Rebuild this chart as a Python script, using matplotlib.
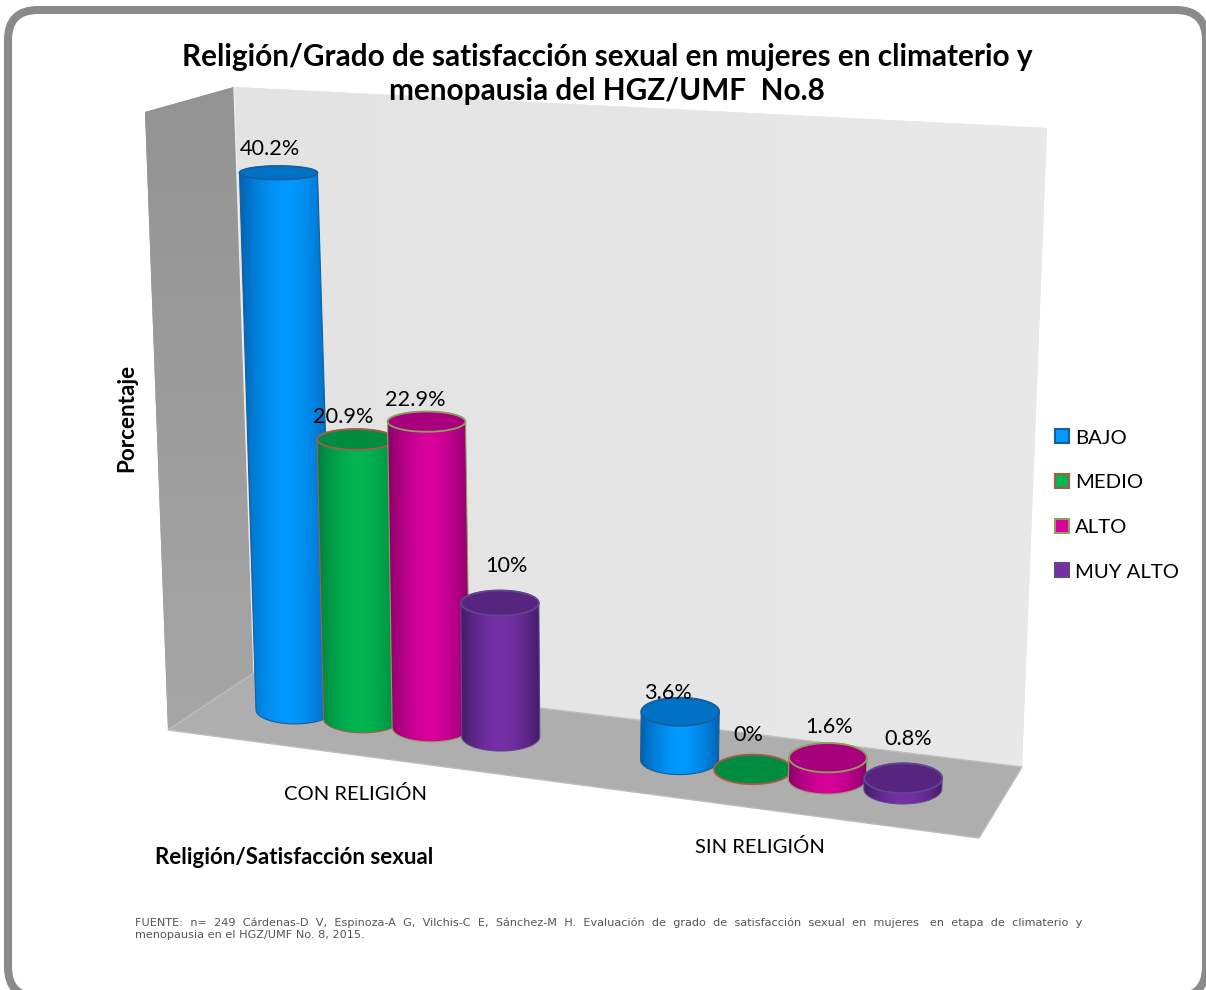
import numpy as np
import matplotlib
matplotlib.use("Agg")
import matplotlib.pyplot as plt
from matplotlib.patches import FancyBboxPatch, Patch, Polygon
from matplotlib.colors import to_rgb

categories = ["CON RELIGIÓN", "SIN RELIGIÓN"]
series = ["BAJO", "MEDIO", "ALTO", "MUY ALTO"]
bajo = [40.2, 3.6]
medio = [20.9, 0]
alto = [22.9, 1.6]
muy_alto = [10, 0.8]
values = [bajo, medio, alto, muy_alto]

title = "Religión/Grado de satisfacción sexual en mujeres en climaterio y\nmenopausia del HGZ/UMF  No.8"
ylabel = "Porcentaje"
xlabel = "Religión/Satisfacción sexual"
fuente = ("FUENTE:  n=  249  Cárdenas-D  V,  Espinoza-A  G,  Vilchis-C  E,  Sánchez-M  H.  Evaluación  de  grado  de  "
          "satisfacción  sexual  en  mujeres   en  etapa  de  climaterio  y\n"
          "menopausia en el HGZ/UMF No. 8, 2015.")

# colours: light centre, dark edge, top cap, outline
center_col = ["#0099ff", "#00b552", "#d8009c", "#7630a6"]
edge_col = ["#0062b0", "#00803c", "#8a0068", "#431c68"]
cap_col = ["#0072c6", "#008c40", "#a8007c", "#57257f"]
line_col = ["#1a5c9c", "#a85a48", "#8f9f5f", "#60468f"]

# hand placed offset of each value label from its cap, same order as values
label_dx = [[-9, -12], [-13, -5], [-11, 1], [7, 5]]
label_dy = [[-24, -19], [-22, -34], [-22, -31], [-37, -39]]

BAR_W = 78
PX_PER_PCT = 13.36
GROUP_STEP = 5.5
SLANT = 0.00155
VANISH_X = 560


def base_x(u):
    return 295 + 67 * u + 0.53 * u ** 2


def base_y(x):
    return 710 + (x - 296) * 0.13


def cap_h(y):
    # ellipses open up the further below the eye line they are
    return 5.8 + (y - 100) * 0.0135


def project(u, v):
    x0 = base_x(u)
    x = x0 + (x0 - VANISH_X) * v * SLANT
    y = base_y(x0) - v * PX_PER_PCT
    return x, y


def gradient(ax, patch, extent, c0, c1, z, vertical=False):
    t = np.linspace(0, 1, 128)
    c0, c1 = np.array(to_rgb(c0)), np.array(to_rgb(c1))
    img = c0[None, :] * (1 - t[:, None]) + c1[None, :] * t[:, None]
    img = img[:, None, :] if vertical else img[None, :, :]
    im = ax.imshow(img, extent=extent, aspect="auto", zorder=z, interpolation="bilinear")
    im.set_clip_path(patch)


def half_arc(cx, cy, w, h, start, stop):
    a = np.linspace(start, stop, 40)
    return np.column_stack([cx + w / 2 * np.cos(a), cy + h * np.sin(a)])


def cylinder(ax, u, v, s, z):
    xb, yb = project(u, 0)
    xt, yt = project(u, v)
    hb, ht = cap_h(yb), cap_h(yt)
    if v > 0:
        # y axis points down here, so 0..pi is the front of each ellipse
        pts = np.vstack([half_arc(xb, yb, BAR_W, hb, 0, np.pi), half_arc(xt, yt, BAR_W, ht, np.pi, 2 * np.pi)])
        body = Polygon(pts, closed=True, fc="none", ec=line_col[s], lw=0.8, zorder=z + 0.2)
        ax.add_patch(body)
        xs = np.linspace(0, 1, 128)
        shade = np.abs(2 * xs - 1) ** 1.7
        c0, c1 = np.array(to_rgb(center_col[s])), np.array(to_rgb(edge_col[s]))
        img = (c0[None, :] * (1 - shade[:, None]) + c1[None, :] * shade[:, None])[None, :, :]
        left = min(xb, xt) - BAR_W / 2
        right = max(xb, xt) + BAR_W / 2
        im = ax.imshow(img, extent=(left, right, yb + hb, yt - ht), aspect="auto", zorder=z + 0.1)
        im.set_clip_path(body)
    cap = Polygon(half_arc(xt, yt, BAR_W, ht, 0, 2 * np.pi), closed=True, fc=cap_col[s], ec=line_col[s],
                  lw=1.3, zorder=z + 0.3)
    ax.add_patch(cap)
    return xt, yt


fig = plt.figure(figsize=(12.06, 9.9), dpi=100, facecolor="white")
ax = fig.add_axes([0, 0, 1, 1])
ax.set_xlim(0, 1206)
ax.set_ylim(990, 0)
ax.axis("off")

plt.rcParams["font.family"] = ["Lato", "DejaVu Sans"]

# outer frame
frame = FancyBboxPatch((38, 40), 1138, 927, boxstyle="round,pad=30,rounding_size=30", fc="white", ec="#8a8a8a",
                       lw=5.8, zorder=0)
ax.add_patch(frame)

# walls and floor
side = Polygon([(145, 112), (234, 87), (254, 673), (168, 730)], closed=True, fc="#999999", ec="none", zorder=1)
ax.add_patch(side)
gradient(ax, side, (145, 254, 730, 87), "#939393", "#a6a6a6", 1.1, vertical=True)
back = Polygon([(234, 87), (1047, 128), (1022, 767), (254, 673)], closed=True, fc="#e5e5e5", ec="none", zorder=1)
ax.add_patch(back)
gradient(ax, back, (234, 1047, 767, 87), "#e3e3e3", "#e9e9e9", 1.1)
ax.plot([234, 254], [87, 673], color="#eeeeee", lw=1, zorder=1.2)
floor = Polygon([(168, 730), (254, 673), (1022, 767), (979, 838)], closed=True, fc="#aeaeae", ec="#bdbdbd", lw=1,
                zorder=1.3)
ax.add_patch(floor)

# cylinders, left to right so that each one covers its neighbour
z = 2
for g in range(len(categories)):
    for s in range(len(series)):
        v = values[s][g]
        xt, yt = cylinder(ax, g * GROUP_STEP + s, v, s, z)
        z += 1
        ax.text(xt + label_dx[s][g], yt + label_dy[s][g], f"{v:g}%", ha="center", va="center", fontsize=15.6,
                color="black", zorder=50)

ax.text(355, 794, categories[0], ha="center", va="center", fontsize=14.5, zorder=50)
ax.text(760, 847, categories[1], ha="center", va="center", fontsize=14.5, zorder=50)
ax.text(607, 74, title, ha="center", va="center", fontsize=21.4, fontweight="bold", linespacing=1.28, zorder=50)
ax.text(127, 418, ylabel, ha="center", va="center", rotation=90, fontsize=16.2, fontweight="bold", zorder=50)
ax.text(155, 857, xlabel, ha="left", va="center", fontsize=16, fontweight="bold", zorder=50)
ax.text(135, 929, fuente, ha="left", va="center", fontsize=8.1, color="#555555", family="DejaVu Sans",
        linespacing=1.25, zorder=50)

handles = [Patch(fc=center_col[i], ec=line_col[i], lw=1.5) for i in range(len(series))]
ax.legend(handles, series, loc="center left", bbox_to_anchor=(1037 / 1206, 1 - 505 / 990), frameon=False,
          fontsize=14.6, handlelength=0.68, handleheight=0.68, handletextpad=0.3, labelspacing=1.36)

fig.savefig("out.png", dpi=100)
